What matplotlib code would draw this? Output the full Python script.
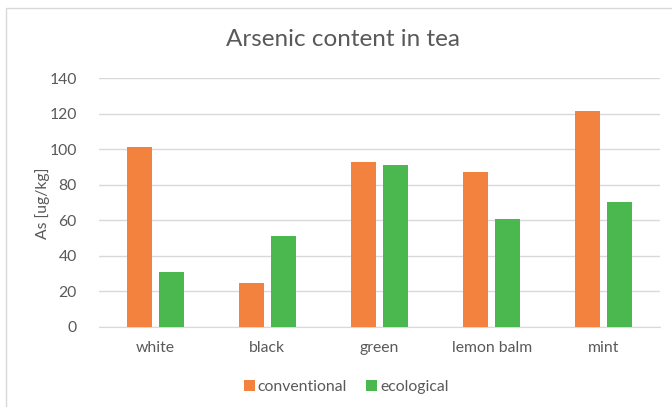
import matplotlib.pyplot as plt
import numpy as np
from matplotlib.patches import Rectangle

categories = ["white", "black", "green", "lemon balm", "mint"]
conventional = [101, 25, 92.5, 87, 121.5]
ecological = [31, 51, 91, 61, 70.5]
yticks = [0, 20, 40, 60, 80, 100, 120, 140]

plt.rcParams['font.family'] = ['Lato', 'DejaVu Sans']
grey = '#595959'
fs = 11.3

W, H = 672, 407
fig = plt.figure(figsize=(W / 100, H / 100), dpi=100)

# chart border (light grey frame, cut off at right/bottom)
fig.patches.append(Rectangle((6 / W, -0.05), 1.1, 1 - 8 / H + 0.05,
                             transform=fig.transFigure, fill=False,
                             edgecolor='#d9d9d9', linewidth=1))

ax = fig.add_axes([99 / W, 1 - 327 / H, (660 - 99) / W, (327 - 78) / H])

x = np.arange(len(categories))
bw = 0.223
off = 0.1426
ax.bar(x - off, conventional, bw, color='#f4823f', label='conventional', zorder=3)
ax.bar(x + off, ecological, bw, color='#4ab84e', label='ecological', zorder=3)

ax.set_xlim(-0.5, len(categories) - 0.5)
ax.set_ylim(0, 140)
ax.set_yticks(yticks)
ax.yaxis.grid(True, color='#d9d9d9', linewidth=1, zorder=0)
ax.set_xticks(x)
ax.set_xticklabels(categories)
ax.tick_params(axis='both', length=0, colors=grey, labelsize=fs)
ax.tick_params(axis='x', pad=10)
ax.tick_params(axis='y', pad=16)
for s in ['top', 'right', 'left']:
    ax.spines[s].set_visible(False)
ax.spines['bottom'].set_color('#d9d9d9')

fig.text(43 / W, 1 - 203 / H, 'As [ug/kg]', rotation=90, ha='center', va='center',
         color=grey, fontsize=fs)

fig.text(343 / W, 1 - 40 / H, 'Arsenic content in tea', ha='center', va='center',
         color=grey, fontsize=17.5)

fig.legend(loc='center', bbox_to_anchor=(346 / W, 1 - 387 / H), ncol=2, frameon=False,
           handlelength=0.7, handleheight=0.7, handletextpad=0.2, columnspacing=1.2,
           labelcolor=grey, fontsize=fs)

fig.savefig('out.png', dpi=100)
